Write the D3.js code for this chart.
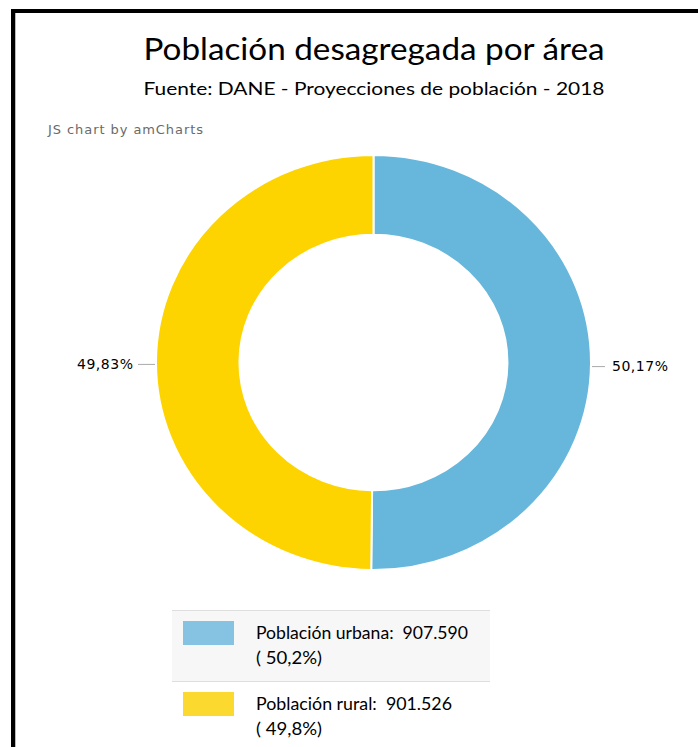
<!DOCTYPE html>
<html>
<head>
<meta charset="utf-8">
<script src="https://cdn.jsdelivr.net/npm/d3@7"></script>
<style>
  html, body { margin: 0; padding: 0; background: #fff; }
  svg { display: block; }
  text { white-space: pre; }
</style>
</head>
<body>
<div id="chart"></div>
<script>
const categories = ["Población urbana", "Población rural"];
const values = [907590, 901526];
const colors = ["#67b7dc", "#fdd400"];
const swatchColors = ["#86c2e2", "#fbd92f"];
const title = "Población desagregada por área";
const subtitle = "Fuente: DANE - Proyecciones de población - 2018";

(function () {
  const W = 698, H = 747;
  const es = d3.formatLocale({ decimal: ",", thousands: ".", grouping: [3], currency: ["", ""] });
  const fmtInt = es.format(",d");
  const fmtPct2 = es.format(".2f");
  const fmtPct1 = es.format(".1f");
  const total = d3.sum(values);

  const svg = d3.select("#chart").append("svg")
    .attr("width", W).attr("height", H);

  // frame (top + left border only)
  svg.append("rect").attr("x", 11).attr("y", 9).attr("width", W - 11).attr("height", 4).attr("fill", "#000");
  svg.append("rect").attr("x", 11).attr("y", 9).attr("width", 4).attr("height", H - 9).attr("fill", "#000");
  svg.append("rect").attr("x", 15).attr("y", 13).attr("width", 1).attr("height", H - 13).attr("fill", "#bbb");

  const titleFont = "Lato, 'Open Sans', sans-serif";
  const smallFont = "'DejaVu Sans', Verdana, sans-serif";

  svg.append("text")
    .attr("x", 374).attr("y", 60)
    .attr("text-anchor", "middle")
    .attr("textLength", 461).attr("lengthAdjust", "spacingAndGlyphs")
    .style("font-family", titleFont).style("font-size", "30px").style("fill", "#000")
    .text(title);

  svg.append("text")
    .attr("x", 374).attr("y", 95)
    .attr("text-anchor", "middle")
    .attr("textLength", 461).attr("lengthAdjust", "spacingAndGlyphs")
    .style("font-family", titleFont).style("font-size", "18px").style("fill", "#000")
    .text(subtitle);

  svg.append("text")
    .attr("x", 48).attr("y", 134)
    .attr("textLength", 155).attr("lengthAdjust", "spacing")
    .style("font-family", smallFont).style("font-size", "13px").style("fill", "#6a6a6a")
    .text("JS chart by amCharts");

  // donut
  const cx = 373.5, cy = 362.5, rOuter = 217.5, rInner = 134, sy = 207.5 / 217.5;
  const pie = d3.pie().sort(null).value(d => d.value);
  const arcs = pie(categories.map((c, i) => ({ cat: c, value: values[i], i })));
  const arc = d3.arc().innerRadius(rInner).outerRadius(rOuter);

  const g = svg.append("g").attr("transform", `translate(${cx},${cy}) scale(1,${sy})`);
  g.selectAll("path.slice").data(arcs).enter().append("path")
    .attr("class", "slice")
    .attr("d", arc)
    .attr("fill", d => colors[d.data.i])
    .attr("stroke", "#fff").attr("stroke-width", 2);

  // labels with ticks
  const lbl = svg.append("g");
  arcs.forEach(d => {
    const mid = (d.startAngle + d.endAngle) / 2;
    const sx = Math.sin(mid), syy = -Math.cos(mid);
    const right = sx > 0;
    const px = cx + sx * rOuter;
    const py = cy + syy * rOuter * sy + 3;
    const x2 = px + (right ? 14 : -18);
    lbl.append("line")
      .attr("x1", px + (right ? 1 : -1)).attr("y1", py)
      .attr("x2", x2).attr("y2", py)
      .attr("stroke", "#aaa").attr("stroke-width", 1);
    lbl.append("text")
      .attr("x", x2 + (right ? 7 : -5)).attr("y", py)
      .attr("dy", "0.35em")
      .attr("text-anchor", right ? "start" : "end")
      .attr("textLength", 56).attr("lengthAdjust", "spacing")
      .style("font-family", smallFont).style("font-size", "14px").style("fill", "#000")
      .text(fmtPct2(d.data.value / total * 100) + "%");
  });

  // legend
  const lx = 172, lw = 318, ly = 610, rowH = 71;
  const leg = svg.append("g");
  leg.append("rect").attr("x", lx).attr("y", ly).attr("width", lw).attr("height", rowH).attr("fill", "#f7f7f7");
  leg.append("line").attr("x1", lx).attr("x2", lx + lw).attr("y1", ly + 0.5).attr("y2", ly + 0.5).attr("stroke", "#dedede");
  leg.append("line").attr("x1", lx).attr("x2", lx + lw).attr("y1", ly + rowH + 0.5).attr("y2", ly + rowH + 0.5).attr("stroke", "#dedede");

  const legWidths = [212, 196];
  categories.forEach((c, i) => {
    const y0 = ly + i * rowH;
    leg.append("rect")
      .attr("x", 183).attr("y", y0 + 11).attr("width", 51).attr("height", 24)
      .attr("fill", swatchColors[i]);
    leg.append("text")
      .attr("x", 256).attr("y", y0 + 29)
      .attr("textLength", legWidths[i]).attr("lengthAdjust", "spacingAndGlyphs")
      .style("font-family", titleFont).style("font-size", "17.5px").style("fill", "#000")
      .text(`${c}:  ${fmtInt(values[i])}`);
    leg.append("text")
      .attr("x", 256).attr("y", y0 + 54)
      .attr("textLength", 66).attr("lengthAdjust", "spacingAndGlyphs")
      .style("font-family", titleFont).style("font-size", "17.5px").style("fill", "#000")
      .text(`( ${fmtPct1(values[i] / total * 100)}%)`);
  });
})();
</script>
</body>
</html>
